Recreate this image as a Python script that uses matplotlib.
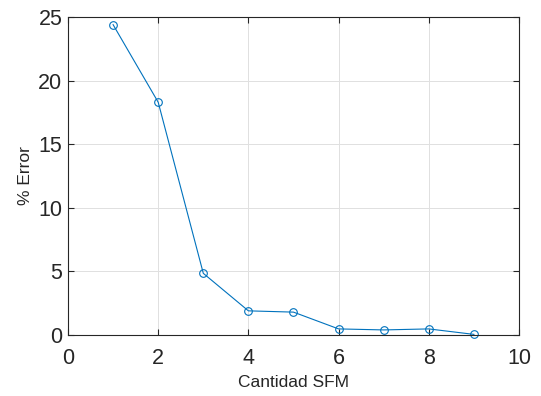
import matplotlib.pyplot as plt

plt.rcParams['font.family'] = ['Liberation Sans', 'DejaVu Sans']

cantidad_sfm = [1, 2, 3, 4, 5, 6, 7, 8, 9]
error_pct = [24.4, 18.3, 4.85, 1.9, 1.8, 0.48, 0.4, 0.48, 0.05]

fig = plt.figure(figsize=(5.41, 3.96), dpi=100)
ax = fig.add_axes([0.1257, 0.154, 0.8336, 0.803])

ax.plot(cantidad_sfm, error_pct, color='#0072BD', lw=0.8, marker='o',
        markersize=5.5, markerfacecolor='none', markeredgewidth=0.8, clip_on=False)

ax.set_xlim(0, 10)
ax.set_ylim(0, 25)
ax.set_xticks(range(0, 11, 2))
ax.set_yticks(range(0, 26, 5))
ax.grid(True, color='#e0e0e0', lw=0.7)
ax.set_axisbelow(True)
ax.tick_params(direction='in', top=True, right=True, labelsize=15.5, colors='#262626',
               length=4, width=0.8)
ax.tick_params(axis='x', pad=9)
ax.tick_params(axis='y', pad=4)
for s in ax.spines.values():
    s.set_color('#262626')
    s.set_linewidth(0.8)

ax.set_xlabel('Cantidad SFM', fontsize=12.5, color='#262626', labelpad=5)
ax.set_ylabel('% Error', fontsize=12.5, color='#262626', labelpad=4)

fig.savefig('out.png')
